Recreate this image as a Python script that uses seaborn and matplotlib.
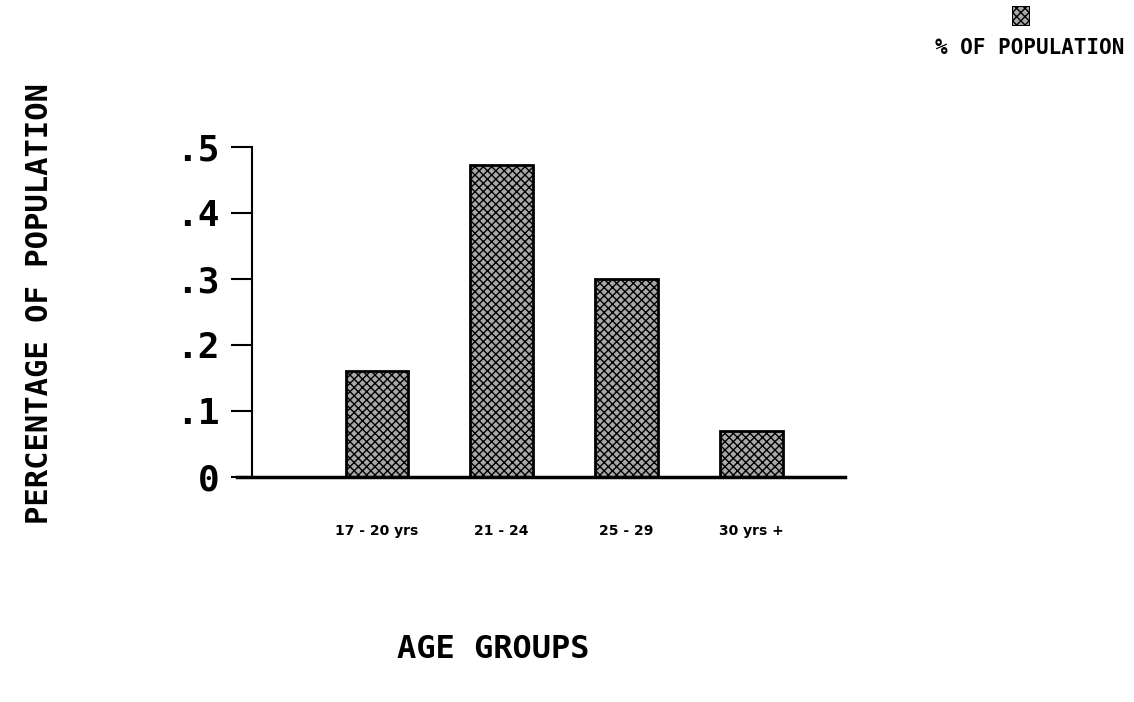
import matplotlib
matplotlib.use("Agg")
import matplotlib.pyplot as plt
import seaborn as sns
import pandas as pd

# values
age_groups = ["17 - 20 yrs", "21 - 24", "25 - 29", "30 yrs +"]
pct_population = [0.16, 0.473, 0.30, 0.07]
y_ticks = [0, 0.1, 0.2, 0.3, 0.4, 0.5]
y_tick_labels = ["0", ".1", ".2", ".3", ".4", ".5"]

df = pd.DataFrame({"age": age_groups, "pct": pct_population})

sns.set_style("white")
plt.rcParams["hatch.linewidth"] = 1.0
plt.rcParams["text.color"] = "black"
plt.rcParams["xtick.color"] = "black"
plt.rcParams["ytick.color"] = "black"

fig = plt.figure(figsize=(11.34, 7.02), dpi=100)
ax = fig.add_axes([252 / 1134, 1 - 477 / 702, (845 - 252) / 1134, (477 - 147) / 702])

sns.barplot(x="age", y="pct", data=df, ax=ax, width=0.5,
            color="#a8a8a8", edgecolor="black", linewidth=2, saturation=1)
for p in ax.patches:
    p.set_hatch("xxxx")

ax.set_xlim(-1, 3.75)
ax.set_ylim(0, 0.5)
ax.set_yticks(y_ticks)
ax.set_yticklabels(y_tick_labels, family="DejaVu Sans Mono",
                   fontweight="bold", fontsize=26, color="black")
ax.set_xticks(range(len(age_groups)))
ax.set_xticklabels(age_groups, family="DejaVu Sans",
                   fontweight="bold", fontsize=10, color="black")
ax.tick_params(axis="y", length=15, width=1.5, direction="out", pad=8, left=True)
ax.tick_params(axis="x", length=0, pad=34)

sns.despine(ax=ax, top=True, right=True)
ax.spines["left"].set_linewidth(1.5)
ax.spines["left"].set_color("black")
ax.spines["bottom"].set_linewidth(2.5)
ax.spines["bottom"].set_color("black")
ax.spines["bottom"].set_bounds(-1.12, 3.75)
ax.spines["bottom"].set_clip_on(False)
ax.set_xlabel("")
ax.set_ylabel("")

fig.text(40 / 1134, 1 - 303 / 702, "PERCENTAGE OF POPULATION", rotation=90,
         ha="center", va="center", family="DejaVu Sans Mono",
         fontweight="bold", fontsize=22, color="black")
fig.text(493 / 1134, 1 - 650 / 702, "AGE GROUPS", ha="center", va="center",
         family="DejaVu Sans Mono", fontweight="bold", fontsize=23, color="black")

# legend in top right corner
lax = fig.add_axes([1012 / 1134, 1 - 26 / 702, 18 / 1134, 20 / 702])
lax.add_patch(plt.Rectangle((0, 0), 1, 1, facecolor="#a8a8a8",
                            edgecolor="black", hatch="xxxx", linewidth=1.5))
lax.set_xlim(0, 1)
lax.set_ylim(0, 1)
lax.axis("off")
fig.text(1030 / 1134, 1 - 48 / 702, "% OF POPULATION", ha="center", va="center",
         family="DejaVu Sans Mono", fontweight="bold", fontsize=15, color="black")

fig.savefig("out.png", dpi=100, facecolor="white")
